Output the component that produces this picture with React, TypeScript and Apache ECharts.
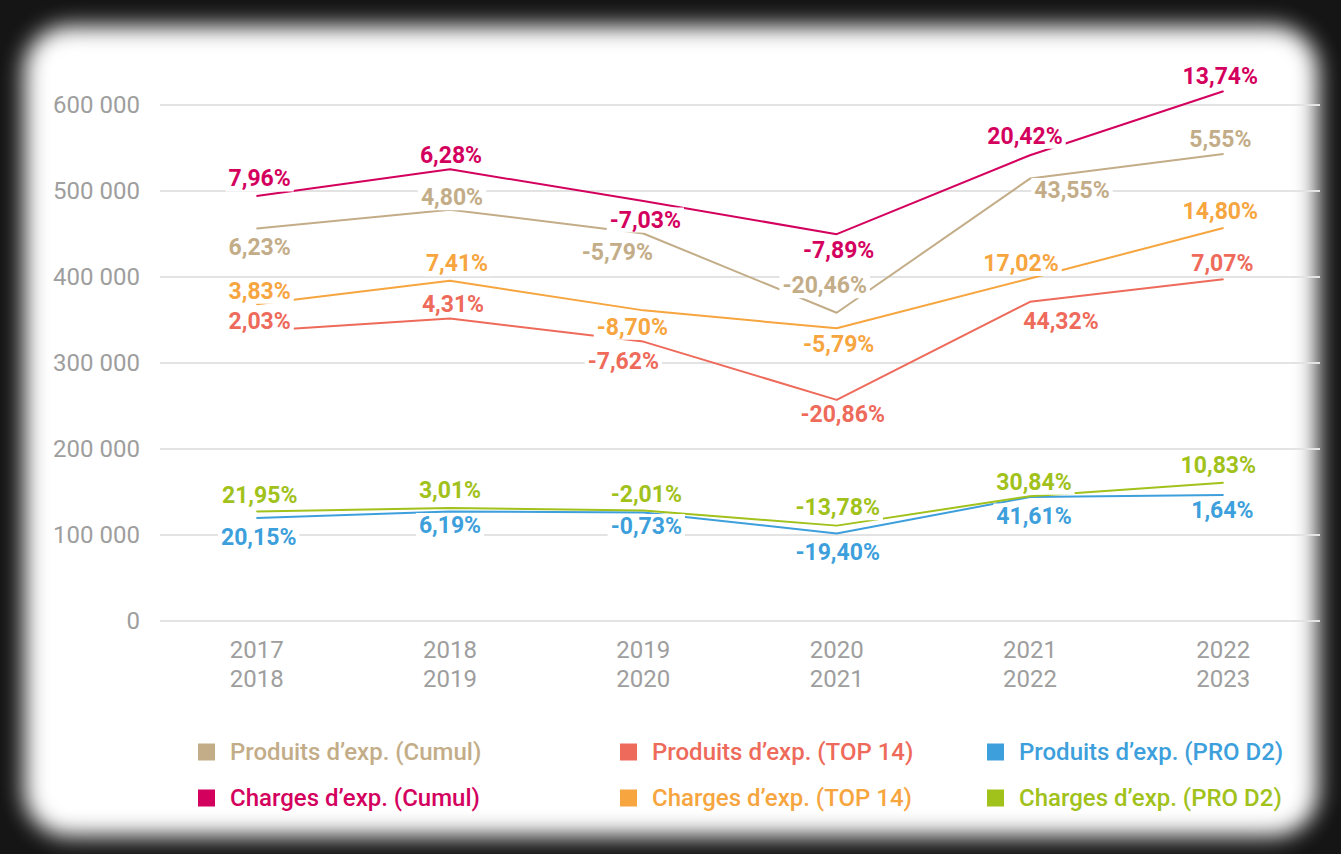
import React, { useEffect, useRef } from "react";
import * as echarts from "echarts";

const categories = ["2017\n2018", "2018\n2019", "2019\n2020", "2020\n2021", "2021\n2022", "2022\n2023"];
const yTicks = [0, 100000, 200000, 300000, 400000, 500000, 600000];

const produitsCumul = [456400, 478300, 450600, 358400, 514400, 543000];
const chargesCumul = [494200, 525200, 488300, 449800, 541600, 616000];
const produitsTop14 = [337200, 351700, 324900, 257100, 371100, 397300];
const chargesTop14 = [368300, 395600, 361200, 340300, 398300, 457000];
const produitsProD2 = [119800, 127200, 126300, 101800, 144100, 146500];
const chargesProD2 = [127400, 131300, 128600, 110900, 145100, 160800];

const produitsCumulPct = ["6,23%", "4,80%", "-5,79%", "-20,46%", "43,55%", "5,55%"];
const chargesCumulPct = ["7,96%", "6,28%", "-7,03%", "-7,89%", "20,42%", "13,74%"];
const produitsTop14Pct = ["2,03%", "4,31%", "-7,62%", "-20,86%", "44,32%", "7,07%"];
const chargesTop14Pct = ["3,83%", "7,41%", "-8,70%", "-5,79%", "17,02%", "14,80%"];
const produitsProD2Pct = ["20,15%", "6,19%", "-0,73%", "-19,40%", "41,61%", "1,64%"];
const chargesProD2Pct = ["21,95%", "3,01%", "-2,01%", "-13,78%", "30,84%", "10,83%"];

// label placement (style only): [dx, dy] from the point
const produitsCumulOff = [[3, 19], [2, -12], [-26, 19], [-12, -27], [42, 12], [-3, -15]];
const chargesCumulOff = [[3, -17], [1, -14], [2, 19], [2, 16], [-5, -19], [-3, -15]];
const produitsTop14Off = [[3, -10], [3, -14], [-20, 20], [6, 15], [31, 20], [-1, -16]];
const chargesTop14Off = [[3, -13], [7, -17], [-11, 17], [2, 16], [-9, -15], [-3, -16]];
const produitsProD2Off = [[2, 20], [0, 14], [3, 14], [1, 19], [4, 19], [-1, 15]];
const chargesProD2Off = [[3, -16], [0, -18], [3, -16], [1, -18], [4, -14], [-5, -17]];

const FONT = "Roboto";

const seriesDefs = [
  { name: "Produits d\u2019exp. (Cumul)", color: "#c3ad88", values: produitsCumul, pct: produitsCumulPct, off: produitsCumulOff, legendLeft: 198, legendTop: 740 },
  { name: "Charges d\u2019exp. (Cumul)", color: "#d4005e", values: chargesCumul, pct: chargesCumulPct, off: chargesCumulOff, legendLeft: 198, legendTop: 786 },
  { name: "Produits d\u2019exp. (TOP 14)", color: "#ee6a5a", values: produitsTop14, pct: produitsTop14Pct, off: produitsTop14Off, legendLeft: 620, legendTop: 740 },
  { name: "Charges d\u2019exp. (TOP 14)", color: "#f6a53f", values: chargesTop14, pct: chargesTop14Pct, off: chargesTop14Off, legendLeft: 620, legendTop: 786 },
  { name: "Produits d\u2019exp. (PRO D2)", color: "#3d9fdb", values: produitsProD2, pct: produitsProD2Pct, off: produitsProD2Off, legendLeft: 987, legendTop: 740 },
  { name: "Charges d\u2019exp. (PRO D2)", color: "#a1c11b", values: chargesProD2, pct: chargesProD2Pct, off: chargesProD2Off, legendLeft: 987, legendTop: 786 },
];

const fmt = (v: number) => String(v).replace(/\B(?=(\d{3})+(?!\d))/g, " ");

export default function App() {
  const ref = useRef<HTMLDivElement>(null);
  useEffect(() => {
    if (!ref.current) return;
    const chart = echarts.init(ref.current, undefined, { renderer: "svg" });
    chart.setOption({
      animation: false,
      backgroundColor: "transparent",
      grid: { left: 160, width: 1160, top: 105, height: 516 },
      xAxis: {
        type: "category",
        data: categories,
        boundaryGap: true,
        axisLine: { show: false },
        axisTick: { show: false },
        axisLabel: { color: "#9e9e9e", fontSize: 24, fontFamily: FONT, lineHeight: 29, margin: 14 },
      },
      yAxis: {
        type: "value",
        min: yTicks[0],
        max: yTicks[yTicks.length - 1],
        interval: 100000,
        axisLine: { show: false },
        axisTick: { show: false },
        splitLine: { lineStyle: { color: "#e3e3e3", width: 2 } },
        axisLabel: {
          color: "#9e9e9e",
          fontSize: 24,
          fontFamily: FONT,
          margin: 20,
          padding: [0, 0, 9, 0],
          formatter: (v: number) => fmt(v),
        },
      },
      legend: seriesDefs.map((s) => ({
        data: [{ name: s.name, textStyle: { color: s.color } }],
        left: s.legendLeft,
        top: s.legendTop,
        orient: "horizontal",
        icon: "rect",
        itemWidth: 17,
        itemHeight: 17,
        padding: 0,
        selectedMode: false,
        textStyle: { fontSize: 24, fontWeight: 500, fontFamily: FONT, lineHeight: 22, padding: [0, 0, 0, 10] },
      })),
      series: seriesDefs.map((s) => ({
        name: s.name,
        type: "line",
        clip: false,
        symbol: "circle",
        symbolSize: 1,
        color: s.color,
        lineStyle: { color: s.color, width: 2 },
        itemStyle: { color: s.color },
        emphasis: { disabled: true },
        data: s.values.map((v, i) => ({ value: v, label: { offset: s.off[i] } })),
        label: {
          show: true,
          position: "inside",
          color: s.color,
          fontSize: 23,
          fontWeight: "bold",
          fontFamily: FONT,
          backgroundColor: "#ffffff",
          padding: [1, 3],
          formatter: (p: any) => s.pct[p.dataIndex],
        },
      })),
    });
    return () => chart.dispose();
  }, []);

  return (
    <div style={{ position: "fixed", left: 0, top: 0, width: 1341, height: 854, background: "#151515", overflow: "hidden" }}>
      <div
        style={{
          position: "absolute",
          left: 24,
          top: 26,
          width: 1294,
          height: 810,
          background: "#ffffff",
          borderRadius: 45,
          filter: "blur(11px)",
        }}
      />
      <div ref={ref} style={{ position: "absolute", left: 0, top: 0, width: 1341, height: 854 }} />
    </div>
  );
}
